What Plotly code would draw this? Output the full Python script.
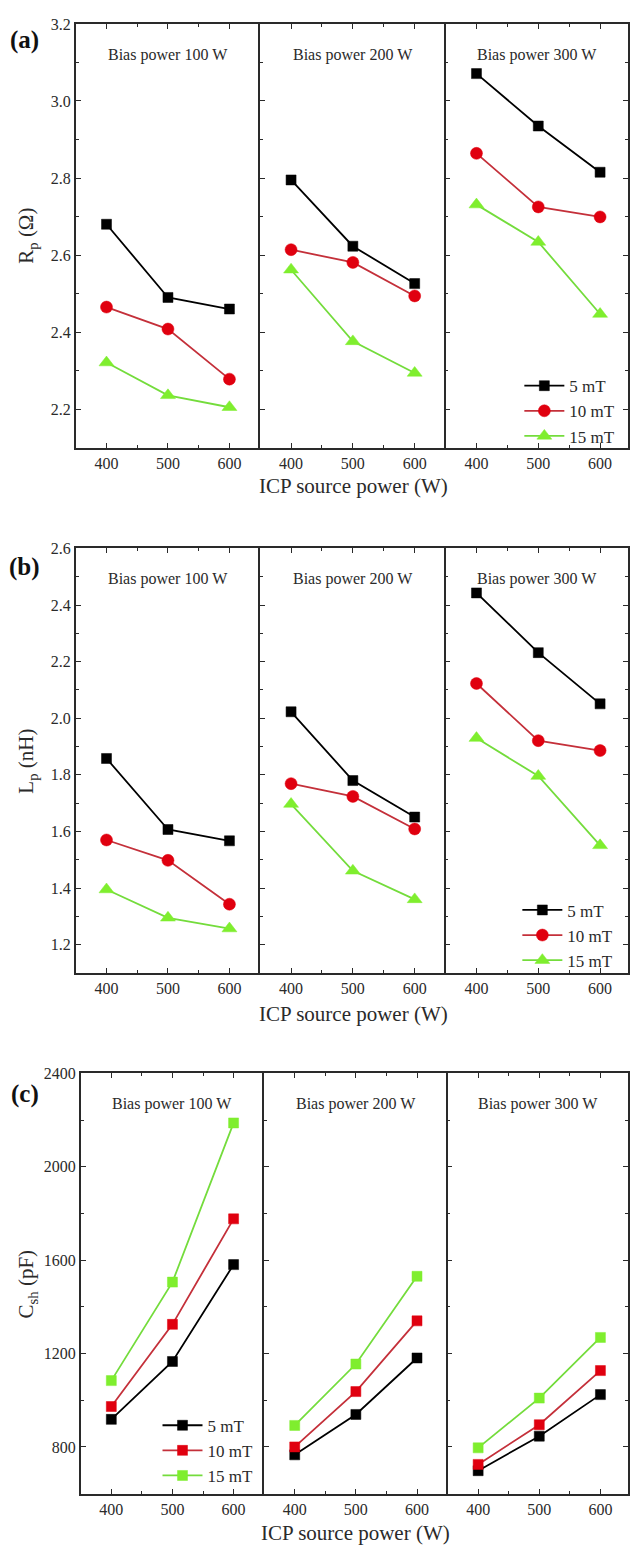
import plotly.graph_objects as go

# ---------------- data ----------------
icp_power = [400, 500, 600]
bias_labels = ["Bias power 100 W", "Bias power 200 W", "Bias power 300 W"]
field_names = ["5 mT", "10 mT", "15 mT"]

# (a) Rp (Ohm): [bias][field] -> values at 400,500,600 W
rp_5mT = [[2.68, 2.49, 2.46], [2.795, 2.623, 2.526], [3.071, 2.935, 2.815]]
rp_10mT = [[2.465, 2.408, 2.278], [2.614, 2.581, 2.494], [2.864, 2.725, 2.699]]
rp_15mT = [[2.321, 2.236, 2.205], [2.562, 2.376, 2.294], [2.731, 2.634, 2.447]]

# (b) Lp (nH)
lp_5mT = [[1.858, 1.607, 1.567], [2.023, 1.780, 1.651], [2.443, 2.232, 2.051]]
lp_10mT = [[1.570, 1.498, 1.343], [1.769, 1.724, 1.609], [2.123, 1.921, 1.886]]
lp_15mT = [[1.395, 1.295, 1.257], [1.697, 1.461, 1.360], [1.930, 1.796, 1.551]]

# (c) Csh (pF)
csh_5mT = [[918, 1166, 1581], [766, 939, 1181], [698, 846, 1024]]
csh_10mT = [[973, 1325, 1777], [800, 1037, 1340], [725, 895, 1127]]
csh_15mT = [[1084, 1506, 2188], [892, 1155, 1531], [796, 1009, 1269]]

y_ticks_a = [2.2, 2.4, 2.6, 2.8, 3.0, 3.2]
y_ticks_b = [1.2, 1.4, 1.6, 1.8, 2.0, 2.2, 2.4, 2.6]
y_ticks_c = [800, 1200, 1600, 2000, 2400]

# ---------------- layout helpers ----------------
W, H = 630, 1547
FONT = "Liberation Serif, Times New Roman, DejaVu Serif, serif"
AX = "#2a2a2a"
TXT = "#2a2a2a"


def fx(px):
    return px / W


def fy(px):
    return 1 - px / H


panels = [
    dict(letter="(a)", series=[rp_5mT, rp_10mT, rp_15mT], xs=[76, 261, 447, 630],
         top=16, bottom=442, yrange=[2.1, 3.2], yticks=y_ticks_a, ydt=0.1, fmt=".1f",
         ytitle="R<sub>p</sub> (Ω)", xtitle_y=480, letter_y=32,
         legend_panel=2, legend_xy=(521, 362),
         symbols=["square", "circle", "triangle-up"]),
    dict(letter="(b)", series=[lp_5mT, lp_10mT, lp_15mT], xs=[76, 261, 447, 630],
         top=543.3, bottom=970, yrange=[1.1, 2.6], yticks=y_ticks_b, ydt=0.1, fmt=".1f",
         ytitle="L<sub>p</sub> (nH)", xtitle_y=1011, letter_y=562,
         legend_panel=2, legend_xy=(519, 889),
         symbols=["square", "circle", "triangle-up"]),
    dict(letter="(c)", series=[csh_5mT, csh_10mT, csh_15mT], xs=[81, 265, 449, 630],
         top=1071, bottom=1493.3, yrange=[600, 2400], yticks=y_ticks_c, ydt=200, fmt="d",
         ytitle="C<sub>sh</sub> (pF)", xtitle_y=1533, letter_y=1092,
         legend_panel=0, legend_xy=(158, 1407),
         symbols=["square", "square", "square"]),
]

line_colors = ["#000000", "#c4303a", "#74dc3c"]
marker_colors = ["#000000", "#e0000f", "#7fee2e"]
marker_sizes = {"square": 10, "circle": 12, "triangle-up": 13}

fig = go.Figure()
layout = dict(
    width=W, height=H, autosize=False,
    margin=dict(l=0, r=0, t=0, b=0),
    paper_bgcolor="white", plot_bgcolor="white",
    font=dict(family=FONT, size=16, color=TXT),
    showlegend=True,
)
annotations = []

ax_i = 0
for p_i, p in enumerate(panels):
    legend_name = "legend" if p_i == 0 else f"legend{p_i + 1}"
    for s_i in range(3):
        ax_i += 1
        xname = "xaxis" if ax_i == 1 else f"xaxis{ax_i}"
        yname = "yaxis" if ax_i == 1 else f"yaxis{ax_i}"
        xref = "x" if ax_i == 1 else f"x{ax_i}"
        yref = "y" if ax_i == 1 else f"y{ax_i}"
        x0, x1 = p["xs"][s_i], p["xs"][s_i + 1]
        xr = [350, 650] if s_i < 2 else [350, 350 + (x1 - x0) / ((p["xs"][2] - p["xs"][1]) / 300.0)]
        layout[xname] = dict(
            domain=[fx(x0), fx(x1)], anchor=yref, range=xr,
            tickmode="array", tickvals=icp_power, ticktext=[str(v) for v in icp_power],
            ticks="inside", ticklen=5, tickwidth=1.3, tickcolor=AX,
            minor=dict(dtick=50, tick0=350, ticks="inside", ticklen=3, tickwidth=1.2, tickcolor=AX),
            showline=True, linecolor=AX, linewidth=1.6, mirror="ticks",
            showgrid=False, zeroline=False,
            tickfont=dict(family=FONT, size=16, color=TXT),
        )
        layout[yname] = dict(
            domain=[fy(p["bottom"]), fy(p["top"])], anchor=xref, range=p["yrange"],
            tickmode="array", tickvals=p["yticks"],
            ticktext=[format(v, p["fmt"]) for v in p["yticks"]],
            ticks="inside", ticklen=5, tickwidth=1.3, tickcolor=AX,
            minor=dict(dtick=p["ydt"], tick0=p["yrange"][0], ticks="inside", ticklen=3,
                       tickwidth=1.2, tickcolor=AX),
            showline=True, linecolor=AX, linewidth=1.6,
            mirror="ticks" if s_i == 2 else False,
            showticklabels=(s_i == 0),
            showgrid=False, zeroline=False,
            tickfont=dict(family=FONT, size=16, color=TXT),
        )
        for f_i in range(3):
            sym = p["symbols"][f_i]
            fig.add_trace(go.Scatter(
                x=icp_power, y=p["series"][f_i][s_i],
                xaxis=xref, yaxis=yref,
                mode="lines+markers",
                name=field_names[f_i],
                legend=legend_name,
                showlegend=(s_i == p["legend_panel"]),
                line=dict(color=line_colors[f_i], width=1.8),
                marker=dict(symbol=sym, size=marker_sizes[sym], color=marker_colors[f_i],
                            line=dict(color=marker_colors[f_i], width=0.5)),
            ))
        annotations.append(dict(
            text=bias_labels[s_i], xref="paper", yref="paper",
            x=fx((x0 + min(x1, x0 + (p["xs"][2] - p["xs"][1]))) / 2), y=fy(p["top"] + 31),
            xanchor="center", yanchor="middle", showarrow=False,
            font=dict(family=FONT, size=16, color=TXT),
        ))
    # legend
    lx, ly = p["legend_xy"]
    layout[legend_name] = dict(
        x=fx(lx), y=fy(ly), xanchor="left", yanchor="top",
        bgcolor="rgba(0,0,0,0)", borderwidth=0, tracegroupgap=0, itemwidth=40,
        font=dict(family=FONT, size=17, color=TXT),
    )
    # axis titles
    annotations.append(dict(
        text="ICP source power (W)", xref="paper", yref="paper",
        x=fx((p["xs"][0] + 633) / 2), y=fy(p["xtitle_y"]),
        xanchor="center", yanchor="middle", showarrow=False,
        font=dict(family=FONT, size=21, color=TXT),
    ))
    annotations.append(dict(
        text=p["ytitle"], xref="paper", yref="paper",
        x=fx(27), y=fy((p["top"] + p["bottom"]) / 2),
        xanchor="center", yanchor="middle", showarrow=False, textangle=-90,
        font=dict(family=FONT, size=21, color=TXT),
    ))
    annotations.append(dict(
        text="<b>" + p["letter"] + "</b>", xref="paper", yref="paper",
        x=fx(25), y=fy(p["letter_y"]),
        xanchor="center", yanchor="middle", showarrow=False,
        font=dict(family=FONT, size=25, color="#111111"),
    ))

layout["annotations"] = annotations
fig.update_layout(**layout)
fig.write_html("out.html")
